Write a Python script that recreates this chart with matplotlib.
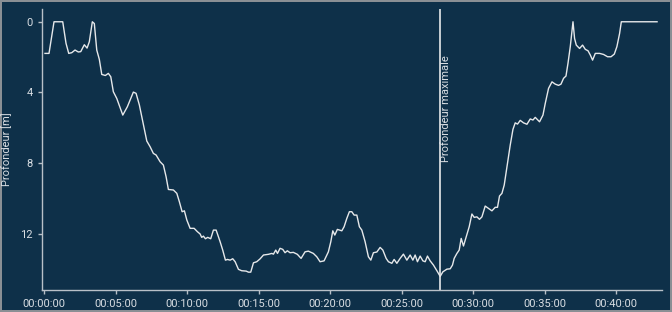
#!/usr/bin/env python3
"""Dive profile: depth over time with the max-depth marker."""

import matplotlib

matplotlib.use("Agg")
import matplotlib.pyplot as plt
import numpy as np
from matplotlib.ticker import FuncFormatter

# elapsed time in minutes, depth in metres
time_min = [
    0.05, 0.33, 0.68, 1.29, 1.52, 1.71, 1.92, 2.15, 2.38, 2.55, 2.8, 2.99, 3.15, 3.36, 3.5, 3.67,
    3.85, 4.02, 4.27, 4.48, 4.65, 4.83, 5.07, 5.49, 5.81, 6.0, 6.23, 6.42, 6.65, 6.93, 7.17, 7.4,
    7.63, 7.82, 8.1, 8.33, 8.52, 8.68, 9.03, 9.27, 9.45, 9.64, 9.8, 9.97, 10.2, 10.48, 10.71, 10.9,
    11.01, 11.13, 11.27, 11.43, 11.64, 11.83, 12.02, 12.3, 12.48, 12.67, 12.81, 13.0, 13.18, 13.35,
    13.58, 13.81, 14.12, 14.28, 14.44, 14.63, 14.86, 15.09, 15.33, 15.68, 15.91, 16.03, 16.19, 16.31,
    16.49, 16.68, 16.84, 17.0, 17.19, 17.42, 17.7, 17.96, 18.24, 18.47, 18.82, 19.06, 19.29, 19.57,
    19.87, 20.04, 20.18, 20.32, 20.5, 20.81, 20.97, 21.16, 21.34, 21.51, 21.67, 21.86, 22.04, 22.21,
    22.44, 22.67, 22.84, 23.02, 23.26, 23.49, 23.68, 23.91, 24.07, 24.31, 24.47, 24.66, 24.89, 25.12,
    25.36, 25.59, 25.78, 25.94, 26.1, 26.29, 26.48, 26.64, 26.8, 26.99, 27.22, 27.46, 27.69, 27.88,
    28.16, 28.39, 28.55, 28.67, 28.86, 29.02, 29.16, 29.32, 29.51, 29.72, 29.91, 30.07, 30.26, 30.44,
    30.61, 30.84, 31.07, 31.31, 31.54, 31.7, 31.84, 32.01, 32.17, 32.4, 32.59, 32.78, 32.94, 33.1,
    33.29, 33.52, 33.76, 33.99, 34.18, 34.34, 34.64, 34.88, 35.04, 35.27, 35.51, 35.74, 35.97, 36.14,
    36.32, 36.49, 36.63, 36.79, 36.98, 37.09, 37.21, 37.44, 37.65, 37.84, 38.03, 38.19, 38.35, 38.54,
    38.84, 39.12, 39.4, 39.64, 39.87, 40.05, 40.24, 40.36, 42.86,
]
depth_m = [
    1.79, 1.79, 0.0, 0.0, 1.22, 1.79, 1.75, 1.6, 1.71, 1.69, 1.3, 1.49, 1.13, 0.0, 0.1, 1.6,
    2.13, 2.98, 3.04, 2.92, 3.11, 3.96, 4.34, 5.28, 4.81, 4.43, 3.98, 4.05, 4.71, 5.8, 6.75, 7.07,
    7.45, 7.54, 7.92, 8.11, 8.77, 9.49, 9.52, 9.71, 10.19, 10.75, 10.7, 11.22, 11.69, 11.69, 11.88, 12.01,
    12.2, 12.13, 12.28, 12.2, 12.28, 11.79, 11.79, 12.45, 12.92, 13.49, 13.45, 13.49, 13.41, 13.58,
    14.01, 14.09, 14.11, 14.17, 14.17, 13.64, 13.58, 13.42, 13.2, 13.16, 13.11, 13.15, 12.92, 13.11,
    12.82, 12.88, 13.07, 12.96, 13.07, 13.05, 13.16, 13.39, 13.02, 12.98, 13.11, 13.3, 13.58, 13.53,
    13.02, 12.45, 11.83, 12.07, 11.75, 11.83, 11.6, 11.13, 10.75, 10.75, 10.94, 10.94, 11.6, 11.79,
    12.45, 13.3, 13.49, 13.07, 13.03, 12.77, 12.92, 13.39, 13.58, 13.67, 13.45, 13.67, 13.39, 13.15,
    13.49, 13.2, 13.49, 13.2, 13.58, 13.26, 13.53, 13.58, 13.26, 13.53, 13.77, 14.09, 14.41, 14.15,
    14.0, 13.98, 13.77, 13.39, 13.11, 12.92, 12.26, 12.69, 12.17, 11.6, 10.88, 11.07, 11.04, 11.18,
    11.04, 10.43, 10.56, 10.7, 10.5, 10.5, 9.86, 9.71, 9.24, 8.01, 6.98, 6.09, 5.72, 5.79,
    5.58, 5.72, 5.8, 5.5, 5.56, 5.41, 5.66, 5.28, 4.62, 3.77, 3.4, 3.53, 3.6, 3.53,
    3.2, 3.07, 2.35, 1.41, 0.0, 0.94, 1.32, 1.51, 1.32, 1.56, 1.64, 1.88, 2.17, 1.79,
    1.79, 1.85, 1.98, 1.98, 1.83, 1.41, 0.66, 0.0, 0.0,
]
x_ticks = [0, 5, 10, 15, 20, 25, 30, 35, 40]
y_ticks = [0, 4, 8, 12]
max_label = "Profondeur maximale"
y_label = "Profondeur [m]"

BG = "#0e3049"
FG = "#d9dee3"


def hms(value, _pos=None):
    secs = int(round(value * 60))
    return f"{secs // 3600:02d}:{secs % 3600 // 60:02d}:{secs % 60:02d}"


def main():
    plt.rcParams["font.family"] = ["Roboto", "DejaVu Sans"]
    fig = plt.figure(figsize=(6.72, 3.12), dpi=100, facecolor=BG)
    fig.patch.set_edgecolor("#8a8f94")
    fig.patch.set_linewidth(1.5)
    ax = fig.add_axes([0.0625, 0.0705, 0.9225, 0.9005], facecolor=BG)

    ax.plot(time_min, depth_m, color="#e6e8ea", linewidth=1.0)

    t_max = time_min[int(np.argmax(depth_m))]
    ax.axvline(t_max, color="#e6e8ea", linewidth=1.2)
    ax.text(t_max + 0.05, 0.836, max_label, transform=ax.get_xaxis_transform(),
            rotation=90, ha="left", va="top", color=FG, fontsize=8)

    ax.set_xlim(-0.16, 43.2)
    ax.set_ylim(15.18, -0.72)
    ax.set_xticks(x_ticks)
    ax.set_yticks(y_ticks)
    ax.xaxis.set_major_formatter(FuncFormatter(hms))
    ax.set_ylabel(y_label, color=FG, fontsize=8, labelpad=6)

    for side in ("top", "right"):
        ax.spines[side].set_visible(False)
    for side in ("left", "bottom"):
        ax.spines[side].set_color("#b8c0c8")
        ax.spines[side].set_linewidth(1.0)
    ax.tick_params(colors="#b8c0c8", labelcolor=FG, labelsize=8, length=3, width=1)

    fig.savefig("out.png", dpi=100, facecolor=fig.get_facecolor(), edgecolor=fig.patch.get_edgecolor())
    plt.close(fig)


if __name__ == "__main__":
    main()
